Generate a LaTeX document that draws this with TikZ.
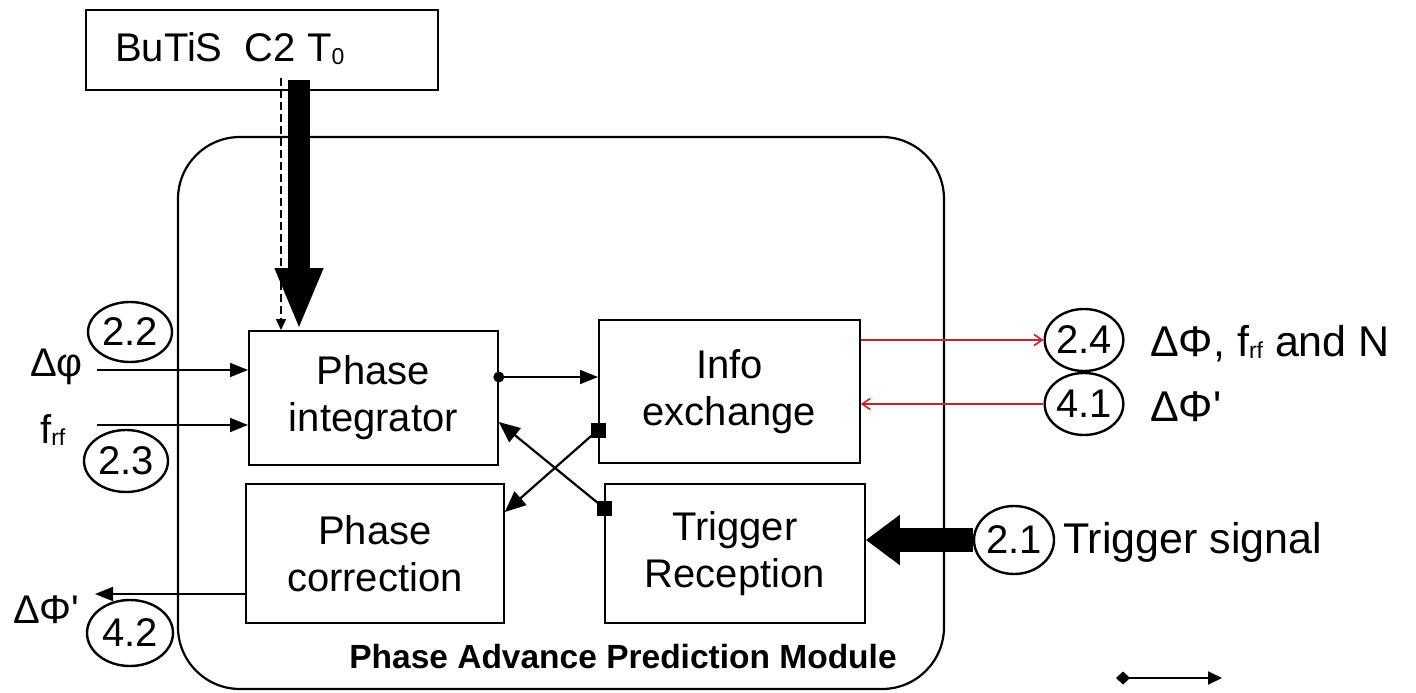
\documentclass[tikz,border=0pt]{standalone}
\usepackage{fontspec}
\setmainfont{Liberation Sans}
\usetikzlibrary{arrows.meta,shapes.geometric}
\definecolor{linkred}{RGB}{204,32,40}
% small index set close to the baseline
\newcommand{\lowidx}[1]{\raisebox{-2pt}{\fontsize{23}{23}\selectfont #1}}
\begin{document}
\begin{tikzpicture}[x=1pt,y=-1pt,
  blk/.style={draw, line width=1.8pt, inner sep=0pt, align=center, anchor=north west,
    font=\fontsize{40}{47}\selectfont},
  tag/.style={draw, ellipse, line width=2.4pt, inner sep=0pt,
    font=\fontsize{40}{40}\selectfont},
  lbl/.style={inner sep=0pt, anchor=base west, font=\fontsize{40}{47}\selectfont},
  rlbl/.style={inner sep=0pt, anchor=base west, font=\fontsize{43}{47}\selectfont},
  sig/.style={line width=1.8pt, -{Triangle[length=18pt,width=14pt]}},
  cross/.style={line width=2.2pt, -{Triangle[length=21pt,width=18pt]}},
  sq/.style={fill, minimum size=15pt, inner sep=0pt},
  dotn/.style={fill, circle, minimum size=11pt, inner sep=0pt},
  redsig/.style={draw=linkred, line width=1.6pt, -{Straight Barb[length=8pt,width=11pt]}}]
\useasboundingbox (0,0) rectangle (1416,693);

% timing source
\node[blk, minimum width=352pt, minimum height=80pt] (butis) at (85,9) {};
\node[lbl] (butistxt) at (115,62) {BuTiS\ \ C2 T\lowidx{0}};

% module frame
\draw[line width=2.2pt, rounded corners=62pt] (178,137) rectangle (944,689);
\node[inner sep=0pt, anchor=base, font=\fontsize{33.5}{33.5}\selectfont\bfseries] (modname) at (623,668)
  {Phase Advance Prediction Module};

% functional blocks
\node[blk, minimum width=249pt, minimum height=134pt] (pi) at (248,330) {Phase\\integrator};
\node[blk, minimum width=258pt, minimum height=139pt] (pc) at (245,483) {Phase\\correction};
\node[blk, minimum width=261pt, minimum height=143pt] (ie) at (598,319) {Info\\exchange};
\node[blk, minimum width=260pt, minimum height=139pt] (tr) at (604,483) {Trigger\\Reception};

% clock inputs from the timing source
\coordinate (clkA) at (281,78);
\coordinate (clkB) at (299,80);
\draw[line width=1.5pt, dash pattern=on 8pt off 4pt, -{Triangle[length=11pt,width=10pt]}]
  (clkA) -- (clkA |- pi.north);
\draw[line width=22pt, -{Triangle[length=62pt,width=44pt]}] (clkB) -- (clkB |- pi.north);

% left side inputs and output
\node[tag, minimum width=84pt, minimum height=60pt] (t22) at (130,332) {2.2};
\node[tag, minimum width=84pt, minimum height=62pt] (t23) at (126,461) {2.3};
\node[tag, minimum width=86pt, minimum height=66pt] (t42) at (130,633) {4.2};
\node[lbl] (ldphi) at (30,376) {Δφ};
\node[lbl] (lfrf) at (40,443) {f\lowidx{rf}};
\node[lbl] (ldout) at (13,623) {ΔΦ\textquotesingle};
\coordinate (inA) at (97,370);
\coordinate (inB) at (97,425);
\coordinate (outA) at (95,594);
\draw[sig] (inA) -- (inA -| pi.west);
\draw[sig] (inB) -- (inB -| pi.west);
\draw[sig] (outA -| pc.west) -- (outA);

% internal links
\coordinate (lnk) at (0,377);
\node[dotn] (dot) at (lnk -| pi.east) {};
\draw[sig] (dot.center) -- (lnk -| ie.west);
\coordinate (xa) at (0,430);
\coordinate (xb) at (0,512);
\coordinate (xc) at (0,508);
\coordinate (xd) at (0,422);
\draw[cross] (xa -| ie.west) -- (xb -| pc.east);
\draw[cross] (xc -| tr.west) -- (xd -| pi.east);
\node[sq] (sqa) at (xa -| ie.west) {};
\node[sq] (sqb) at (xc -| tr.west) {};

% exchange with neighbouring modules
\node[tag, minimum width=70pt, minimum height=62pt] (t24) at (1084,340) {2.4};
\node[tag, minimum width=70pt, minimum height=62pt] (t41) at (1084,404) {4.1};
\draw[redsig] (t24 -| ie.east) -- (t24.west);
\draw[redsig] (t41.west) -- (t41 -| ie.east);
\node[rlbl] (l24) at (1150,356) {ΔΦ, f\lowidx{rf} and N};
\node[rlbl] (l41) at (1150,421) {ΔΦ\textquotesingle};

% trigger input
\node[tag, minimum width=80pt, minimum height=68pt] (t21) at (1014,540) {2.1};
\draw[line width=24pt, -{Triangle[length=34pt,width=48pt]}] (t21.west) -- (t21 -| tr.east);
\node[rlbl] (l21) at (1063,553) {Trigger signal};

% legend arrow
\coordinate (legA) at (1116,678);
\coordinate (legB) at (1222,678);
\draw[line width=1.8pt, {Diamond[length=14pt,width=13pt]}-{Triangle[length=14pt,width=13pt]}] (legA) -- (legB);
\end{tikzpicture}
\end{document}
